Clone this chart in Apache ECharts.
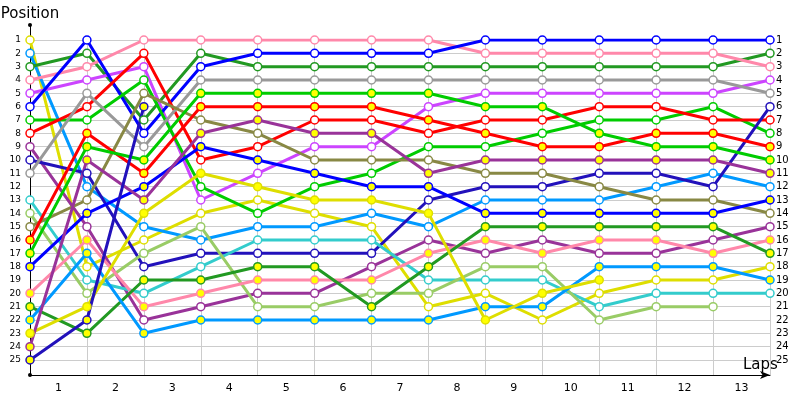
<!DOCTYPE html>
<html><head><meta charset="utf-8">
<script src="https://cdn.jsdelivr.net/npm/echarts@6/dist/echarts.min.js"></script>
<style>html,body{margin:0;padding:0;background:#fff}#c{width:800px;height:400px}</style>
</head><body><div id="c"></div>
<script>
// Lap labels (shown between lap gridlines) and position labels
const lapLabels = ['1','2','3','4','5','6','7','8','9','10','11','12','13'];
const positionLabels = [1,2,3,4,5,6,7,8,9,10,11,12,13,14,15,16,17,18,19,20,21,22,23,24,25];

// Positions per lap (index 0 = start, then laps 1..13)
const yellowOpen      = [1,18,16,14,13,14,15,21,20,22,20,19,19,18];
const lightBlueOpen   = [2,12,15,16,15,15,14,15,13,13,13,12,11,12];
const darkGreenOpen   = [3,2,7,2,3,3,3,3,3,3,3,3,3,2];
const pinkOpen        = [4,3,1,1,1,1,1,1,2,2,2,2,2,3];
const violetOpen      = [5,4,3,13,11,9,9,6,5,5,5,5,5,4];
const blueOpen        = [6,1,8,3,2,2,2,2,1,1,1,1,1,1];
const greenOpen       = [7,7,4,12,14,12,11,9,9,8,7,7,6,8];
const redOpen         = [8,6,2,10,9,7,7,8,7,7,6,6,7,7];
const purpleOpen      = [9,15,22,21,20,20,18,16,17,16,17,17,16,15];
const navyOpen        = [10,11,18,17,17,17,17,13,12,12,11,11,12,6];
const grayOpen        = [11,5,9,4,4,4,4,4,4,4,4,4,4,5];
const turquoiseOpen   = [13,19,20,18,16,16,16,19,19,19,21,20,20,20];
const limeOpen        = [14,20,17,15,21,21,20,20,18,18,22,21,21];
const oliveOpen       = [15,13,5,7,8,10,10,10,11,11,12,13,13,14];
const redFilled       = [16,8,11,6,6,6,6,7,8,9,9,8,8,9];
const greenFilled     = [17,9,10,5,5,5,5,5,6,6,8,9,9,10];
const blueFilled      = [18,14,12,9,10,11,12,12,14,14,14,14,14,13];
const pinkFilled      = [20,16,21,20,19,19,19,17,16,17,16,16,17,16];
const darkGreenFilled = [21,23,19,19,18,18,21,18,15,15,15,15,15,17];
const lightBlueFilled = [22,17,23,22,22,22,22,22,21,21,18,18,18,19];
const yellowFilled    = [23,21,14,11,12,13,13,14,22,20,19];
const purpleFilled    = [24,10,13,8,7,8,8,11,10,10,10,10,10,11];
const navyFilled      = [25,22,6];

// Styles
const C = {yellow:'#dede00', lightBlue:'#0099ff', darkGreen:'#229922', pink:'#ff88aa', violet:'#cc44ff',
  blue:'#0000ff', green:'#00cc00', red:'#ff0000', purple:'#993399', navy:'#2211bb', gray:'#999999',
  turquoise:'#33cccc', lime:'#99cc66', olive:'#888844'};
const OPEN = '#ffffff', FILLED = '#ffff00';
const defs = [
  [yellowOpen, C.yellow, OPEN], [lightBlueOpen, C.lightBlue, OPEN], [darkGreenOpen, C.darkGreen, OPEN],
  [pinkOpen, C.pink, OPEN], [violetOpen, C.violet, OPEN], [blueOpen, C.blue, OPEN], [greenOpen, C.green, OPEN],
  [redOpen, C.red, OPEN], [purpleOpen, C.purple, OPEN], [navyOpen, C.navy, OPEN], [grayOpen, C.gray, OPEN],
  [turquoiseOpen, C.turquoise, OPEN], [limeOpen, C.lime, OPEN], [oliveOpen, C.olive, OPEN],
  [redFilled, C.red, FILLED], [greenFilled, C.green, FILLED], [blueFilled, C.blue, FILLED],
  [pinkFilled, C.pink, FILLED], [darkGreenFilled, C.darkGreen, FILLED], [lightBlueFilled, C.lightBlue, FILLED],
  [yellowFilled, C.yellow, FILLED], [purpleFilled, C.purple, FILLED], [navyFilled, C.navy, FILLED]
];

const FONT = "'DejaVu Sans', sans-serif";
const GRID_C = '#cccccc';
const splitColors = positionLabels.map(() => GRID_C).concat(['rgba(0,0,0,0)','rgba(0,0,0,0)']);

const series = defs.map(([arr, color, fill]) => ({
  type: 'line',
  xAxisIndex: 0, yAxisIndex: 0,
  data: arr.map((p, i) => [i, p]),
  symbol: 'circle', symbolSize: 8, showAllSymbol: true,
  lineStyle: {color: color, width: 3},
  itemStyle: {color: fill, borderColor: color, borderWidth: 1.5},
  emphasis: {disabled: true},
  silent: true, animation: false
}));

const chart = echarts.init(document.getElementById('c'), null, {renderer: 'canvas'});
chart.setOption({
  animation: false,
  backgroundColor: '#ffffff',
  grid: [
    {left: 30, right: 30, top: 40, bottom: 25, containLabel: false, outerBoundsMode: 'none'},
    {left: 30, right: 30, top: 25, bottom: 25, containLabel: false, outerBoundsMode: 'none'}
  ],
  xAxis: [
    {type: 'value', gridIndex: 0, min: 0, max: 13, interval: 1,
     axisLine: {show: true, onZero: false, lineStyle: {color: '#000', width: 1}, symbol: ['none', 'arrow'], symbolSize: [6, 10]},
     axisTick: {show: false},
     splitLine: {show: true, lineStyle: {color: GRID_C, width: 1}},
     axisLabel: {customValues: lapLabels.map((_, i) => i + 0.5), formatter: v => lapLabels[Math.floor(v)],
       color: '#000', fontSize: 11, fontFamily: FONT, margin: 8},
     name: 'Laps', nameLocation: 'end', nameGap: -27, nameMoveOverlap: false,
     nameTextStyle: {color: '#000', fontSize: 15, fontFamily: FONT, align: 'left', verticalAlign: 'bottom', padding: [0, 0, 2, 0]}
    },
    {type: 'value', gridIndex: 1, min: 0, max: 1, show: false}
  ],
  yAxis: [
    {type: 'value', gridIndex: 0, inverse: true, min: 1, max: 26.125, interval: 1, position: 'left',
     axisLine: {show: false}, axisTick: {show: false},
     splitLine: {show: true, showMaxLine: false, lineStyle: {color: splitColors, width: 1}},
     axisLabel: {customValues: positionLabels, formatter: v => String(v), color: '#000', fontSize: 9, fontFamily: FONT, margin: 9}
    },
    {type: 'value', gridIndex: 0, inverse: true, min: 1, max: 26.125, interval: 1, position: 'right',
     axisLine: {show: false}, axisTick: {show: false}, splitLine: {show: false},
     axisLabel: {customValues: positionLabels, formatter: v => String(v), color: '#000', fontSize: 10, fontFamily: FONT, margin: 6}
    },
    {type: 'value', gridIndex: 1, min: 0, max: 1, position: 'left',
     axisLine: {show: true, onZero: false, lineStyle: {color: '#000', width: 1}, symbol: ['circle', 'circle'], symbolSize: [4, 4]},
     axisTick: {show: false}, axisLabel: {show: false}, splitLine: {show: false},
     name: 'Position', nameLocation: 'end', nameGap: 3, nameMoveOverlap: false,
     nameTextStyle: {color: '#000', fontSize: 15, fontFamily: FONT}
    }
  ],
  series: series
});
</script>
</body></html>
